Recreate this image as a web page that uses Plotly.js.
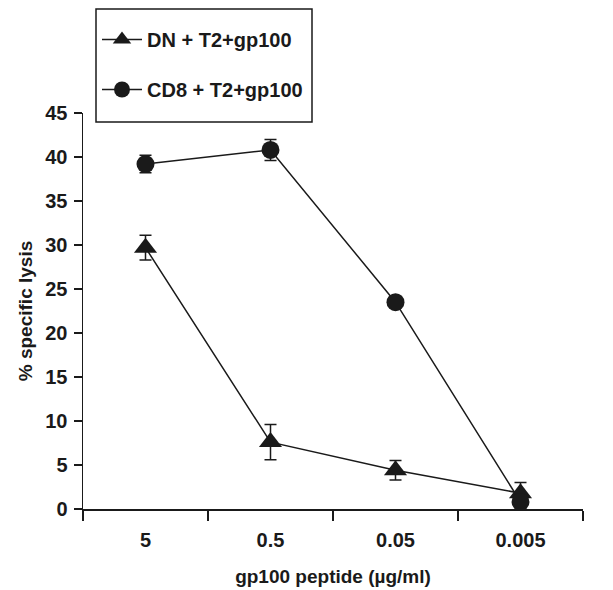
<!DOCTYPE html>
<html>
<head>
<meta charset="utf-8">
<script src="https://cdn.plot.ly/plotly-3.0.1.min.js"></script>
<style>html,body{margin:0;padding:0;background:#fff}#chart{width:613px;height:590px}</style>
</head>
<body>
<div id="chart"></div>
<script>
const categories = ["5", "0.5", "0.05", "0.005"];
const dnValues = [29.7, 7.6, 4.4, 1.8];
const dnErrors = [1.4, 2.0, 1.1, 1.2];
const cd8Values = [39.2, 40.8, 23.5, 0.8];
const cd8Errors = [1.0, 1.2, 0.5, 0.8];
const seriesNames = ["DN + T2+gp100", "CD8 + T2+gp100"];
const yTicks = [0, 5, 10, 15, 20, 25, 30, 35, 40, 45];

const baseFont = {family: "Liberation Sans, Arial, sans-serif", color: "#1a1a1a"};

const traces = [
  {
    x: categories, y: dnValues, name: seriesNames[0], type: "scatter", mode: "lines+markers",
    legendgroup: "a",
    line: {color: "#1a1a1a", width: 1.5},
    marker: {symbol: "triangle-up", size: 20, color: "#1a1a1a"},
    error_y: {type: "data", array: dnErrors, visible: true, color: "#1a1a1a", thickness: 1.5, width: 6}
  },
  {
    x: categories, y: cd8Values, name: seriesNames[1], type: "scatter", mode: "lines+markers",
    legendgroup: "b",
    line: {color: "#1a1a1a", width: 1.5},
    marker: {symbol: "circle", size: 18, color: "#1a1a1a"},
    error_y: {type: "data", array: cd8Errors, visible: true, color: "#1a1a1a", thickness: 1.5, width: 6}
  }
];

const W = 613, H = 590, ML = 83, MR = 30, MT = 113, MB = 81;
const plotW = W - ML - MR, plotH = H - MT - MB;
const px2x = p => (p - ML) / plotW;
const px2y = p => 1 - (p - MT) / plotH;

const layout = {
  width: W, height: H,
  margin: {l: ML, r: MR, t: MT, b: MB},
  paper_bgcolor: "#fff", plot_bgcolor: "#fff",
  showlegend: true,
  legend: {
    xref: "paper", yref: "paper",
    x: px2x(97), y: px2y(20), xanchor: "left", yanchor: "top",
    font: Object.assign({}, baseFont, {size: 20, weight: "bold"}),
    borderwidth: 0, bgcolor: "rgba(0,0,0,0)",
    traceorder: "grouped", tracegroupgap: 21,
    itemwidth: 40
  },
  shapes: [{
    type: "rect", xref: "paper", yref: "paper",
    x0: px2x(96), x1: px2x(312), y0: px2y(9), y1: px2y(122),
    line: {color: "#1a1a1a", width: 1.5}, fillcolor: "rgba(0,0,0,0)", layer: "above"
  }],
  xaxis: {
    type: "category", range: [-0.5, 3.5],
    showline: true, linecolor: "#1a1a1a", linewidth: 1.5,
    ticks: "outside", ticklen: 10, tickwidth: 1.5, tickcolor: "#1a1a1a",
    tickson: "boundaries", showgrid: false, zeroline: false,
    ticklabelstandoff: 12,
    tickfont: Object.assign({}, baseFont, {size: 20, weight: "bold"}),
    title: {text: "gp100 peptide (µg/ml)", font: Object.assign({}, baseFont, {size: 19, weight: "bold"}), standoff: 20}
  },
  yaxis: {
    range: [0, 45], tickvals: yTicks,
    showline: true, linecolor: "#1a1a1a", linewidth: 1.5,
    ticks: "outside", ticklen: 8, tickwidth: 1.5, tickcolor: "#1a1a1a",
    showgrid: false, zeroline: false,
    ticklabelstandoff: 2,
    tickfont: Object.assign({}, baseFont, {size: 20, weight: "bold"}),
    title: {text: "% specific lysis", font: Object.assign({}, baseFont, {size: 19, weight: "bold"}), standoff: 7}
  }
};

Plotly.newPlot("chart", traces, layout, {displayModeBar: false, staticPlot: true});
</script>
</body>
</html>
